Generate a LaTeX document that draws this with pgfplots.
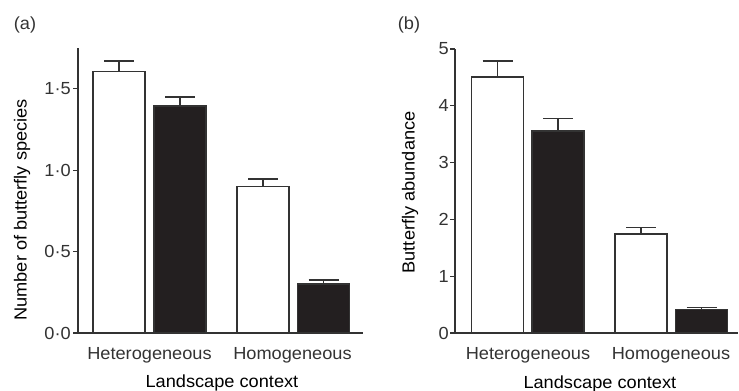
\documentclass[border=0pt]{standalone}
\usepackage{fontspec}
\setmainfont{Liberation Sans}[FakeStretch=1.04]
\usepackage{pgfplots}
\pgfplotsset{compat=1.18}
\definecolor{ink}{HTML}{333333}
\definecolor{barblack}{HTML}{231F20}
\pgfplotsset{
  panel/.style={
    scale only axis,
    anchor=origin,
    font=\fontsize{17.5bp}{21bp}\selectfont,
    axis x line*=bottom, axis y line*=left,
    axis line style={ink, line width=1.1bp, -},
    xmin=0, xmax=285, ymin=0,
    tick align=outside, tick style={ink, line width=1.1bp},
    major tick length=5bp,
    xtick style={draw=none},
    /pgf/number format/assume math mode=true,
    xticklabel style={anchor=center, inner sep=0pt, yshift=-17bp, text=ink},
    yticklabel style={anchor=east, inner sep=0pt, text=ink},
    xlabel style={text=ink},
    ylabel style={text=ink},
    xtick={71.5,214.5},
    xticklabels={Heterogeneous,Homogeneous},
    ybar, bar shift=0pt, bar width=52,
    error bars/y dir=plus, error bars/y explicit,
    error bars/error bar style={ink, line width=1.3bp},
    error bars/error mark options={ink, line width=1.3bp, mark size=15bp, rotate=90},
  },
  whitebar/.style={draw=ink, fill=white, line width=1.5bp},
  blackbar/.style={draw=ink, fill=barblack, line width=1.5bp},
}
\begin{document}
\begin{tikzpicture}
\path[use as bounding box] (0,0) rectangle (739bp,391bp);
\node[font=\fontsize{17.5bp}{21bp}\selectfont, text=ink] at (25bp,366bp) {(a)};
\node[font=\fontsize{17.5bp}{21bp}\selectfont, text=ink] at (409bp,366bp) {(b)};
% Panel (a)
\begin{axis}[panel, at={(78bp,58bp)},
  width=285bp, height=285bp, ymax=1.75,
  ytick={0,0.5,1,1.5},
  yticklabel style={/pgf/number format/fixed, /pgf/number format/fixed zerofill, /pgf/number format/precision=1, /pgf/number format/set decimal separator={·}},
  yticklabel style={xshift=-2bp},
  xlabel={Landscape context},
  every axis x label/.style={at={(axis description cs:0.505,-0.177)}, anchor=center},
  ylabel={Number of butterfly species},
  every axis y label/.style={at={(axis description cs:-0.196,0.432)}, anchor=center, rotate=90},
]
\addplot[whitebar, error bars/.cd, y dir=plus, y explicit] coordinates {(41,1.607) +- (0,0.063) (185,0.90) +- (0,0.045)};
\addplot[blackbar, error bars/.cd, y dir=plus, y explicit] coordinates {(102,1.393) +- (0,0.057) (245.5,0.30) +- (0,0.025)};
\end{axis}
% Panel (b)
\begin{axis}[panel, at={(455bp,58bp)},
  width=283bp, height=284bp, xmax=283, ymax=5,
  ytick={0,1,2,3,4,5},
  yticklabel style={xshift=-1bp},
  xtick={73,216},
  xlabel={Landscape context},
  every axis x label/.style={at={(axis description cs:0.512,-0.178)}, anchor=center},
  ylabel={Butterfly abundance},
  every axis y label/.style={at={(axis description cs:-0.159,0.495)}, anchor=center, rotate=90},
]
\addplot[whitebar, error bars/.cd, y dir=plus, y explicit] coordinates {(42.5,4.51) +- (0,0.28) (186,1.74) +- (0,0.12)};
\addplot[blackbar, error bars/.cd, y dir=plus, y explicit] coordinates {(103,3.56) +- (0,0.22) (246.5,0.41) +- (0,0.04)};
\end{axis}
\end{tikzpicture}
\end{document}
